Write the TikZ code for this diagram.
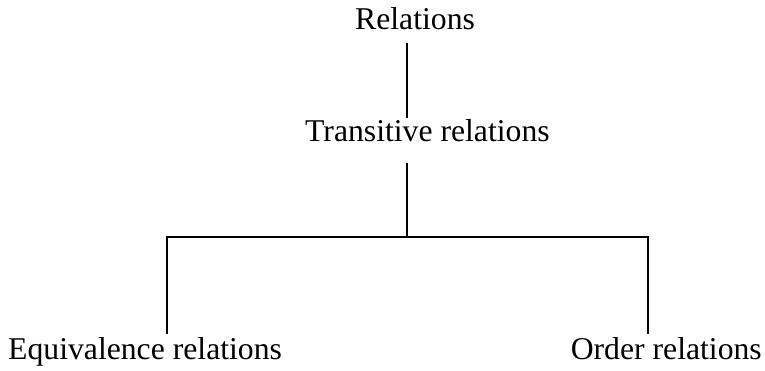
\documentclass[tikz,border=0pt]{standalone}
\usepackage{fontspec}
\setmainfont{Liberation Serif}
\begin{document}
\begin{tikzpicture}[x=1pt,y=1pt,
  lbl/.style={inner sep=0pt,font=\fontsize{31.7}{38}\selectfont},
  conn/.style={line width=1.7pt,line cap=rect}]
\useasboundingbox (0,0) rectangle (765,370);
% text nodes (y measured from top: y_tikz = 370 - y)
\node[lbl,anchor=base west] (rel) at (355,340) {Relations};
\node[lbl,anchor=base west] (tr) at (305,228) {Transitive relations};
\node[lbl,anchor=base west] (eq) at (8,11) {Equivalence relations};
\node[lbl,anchor=base east] (ord) at (762,11) {Order relations};
% connector points
\coordinate (a1) at (407,326);
\coordinate (a2) at (407,253);
\coordinate (b1) at (407,206);
\coordinate (j) at (407,133);
\coordinate (l) at (167,133);
\coordinate (r) at (648,133);
\coordinate (lb) at (167,37);
\coordinate (rb) at (648,37);
\draw[conn] (a1) -- (a2);
\draw[conn] (b1) -- (j);
\draw[conn] (lb) -- (l) -- (r) -- (rb);
\end{tikzpicture}
\end{document}
